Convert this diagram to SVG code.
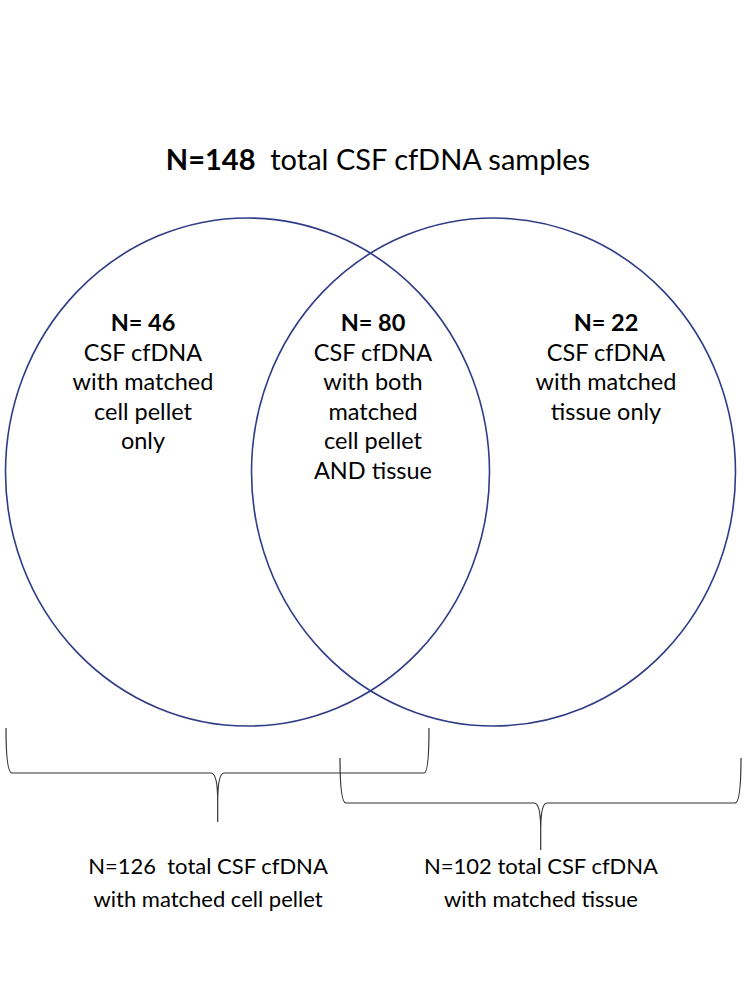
<svg xmlns="http://www.w3.org/2000/svg" width="747" height="997" viewBox="0 0 747 997">
<style>
.c{fill:none;stroke:#2F3C86;stroke-width:1.6}
.b{fill:none;stroke:#333;stroke-width:1.2}
text{font-family:Lato,"Open Sans","Liberation Sans",sans-serif;fill:#000;text-anchor:middle;white-space:pre}
.t{font-size:29px}
.m{font-size:23.5px}
.s{font-size:22px}
.bd{font-weight:bold}
</style>
<rect width="747" height="997" fill="#fff"/>
<g id="title"><text class="t" x="378" y="170" xml:space="preserve"><tspan class="bd">N=148</tspan>  total CSF cfDNA samples</text></g>
<g id="circle-left"><ellipse class="c" cx="247.5" cy="472" rx="242" ry="254"/></g>
<g id="circle-right"><ellipse class="c" cx="493.5" cy="472" rx="242" ry="254"/></g>
<g id="left-only">
<text class="m bd" x="143" y="331">N= 46</text>
<text class="m" x="143" y="361">CSF cfDNA</text>
<text class="m" x="143" y="390">with matched</text>
<text class="m" x="143" y="420">cell pellet</text>
<text class="m" x="143" y="449">only</text>
</g>
<g id="both">
<text class="m bd" x="373" y="331">N= 80</text>
<text class="m" x="373" y="361">CSF cfDNA</text>
<text class="m" x="373" y="390">with both</text>
<text class="m" x="373" y="420">matched</text>
<text class="m" x="373" y="449">cell pellet</text>
<text class="m" x="373" y="479">AND tissue</text>
</g>
<g id="right-only">
<text class="m bd" x="606" y="331">N= 22</text>
<text class="m" x="606" y="361">CSF cfDNA</text>
<text class="m" x="606" y="390">with matched</text>
<text class="m" x="606" y="420">tissue only</text>
</g>
<g id="connectors">
<path class="b" d="M6,728 Q6,773 12,773 L211,773 Q217.5,773 217.7,800 L217.7,822 M217.7,800 Q218,773 224,773 L424,773 Q429,773 429,728"/>
<path class="b" d="M340,758 Q340,803 346,803 L534,803 Q540.5,803 540.7,828 L540.7,850 M540.7,828 Q541,803 547,803 L735,803 Q741,803 741,758"/>
</g>
<g id="label-pellet">
<text class="s" x="208" y="874" xml:space="preserve">N=126  total CSF cfDNA</text>
<text class="s" x="208" y="907">with matched cell pellet</text>
</g>
<g id="label-tissue">
<text class="s" x="541" y="874">N=102 total CSF cfDNA</text>
<text class="s" x="541" y="907">with matched tissue</text>
</g>
</svg>
